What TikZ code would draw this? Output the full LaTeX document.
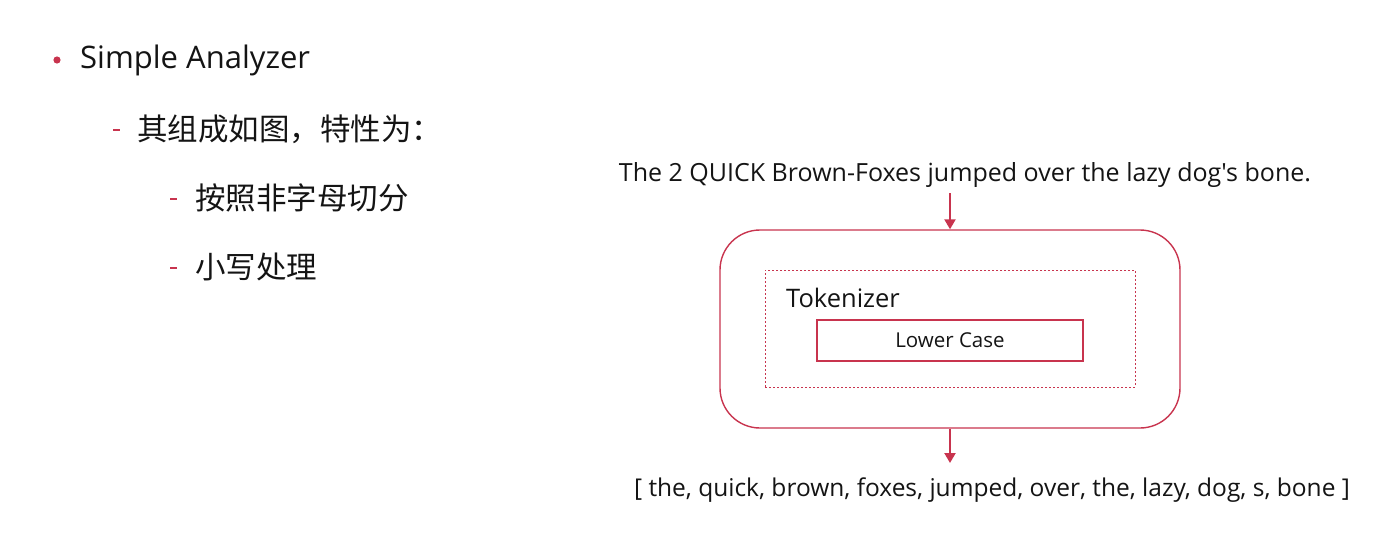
\documentclass[tikz,border=0pt]{standalone}
\usepackage{fontspec}
\setmainfont{Open Sans}[Ligatures=TeXOff]
\newfontfamily\cjk{Noto Sans CJK SC}
\usetikzlibrary{arrows.meta}
\definecolor{accent}{RGB}{200,52,78}
\definecolor{ink}{RGB}{20,20,20}
\begin{document}
\begin{tikzpicture}[x=1pt,y=-1pt,
  txt/.style={inner sep=0pt,text=ink,anchor=west},
  flow/.style={draw=accent,line width=2.2pt,-{Triangle[length=10pt,width=11pt]}},
  dashmark/.style={fill=accent,minimum width=7pt,minimum height=1.5pt,inner sep=0pt}]
\useasboundingbox (0,0) rectangle (1382,538);
% left text
\fill[accent] (57,60) circle (3.6pt);
\node[txt,font=\fontsize{31}{34}\selectfont] (t1) at (80,60) {Simple Analyzer};
\node[dashmark] (d1) at (116,130) {};
\node[txt,font=\cjk\fontsize{30.5}{34}\selectfont] (t2) at (137,129) {其组成如图，特性为：};
\node[dashmark] (d2) at (173,199) {};
\node[txt,font=\cjk\fontsize{30.5}{34}\selectfont] (t3) at (195,198) {按照非字母切分};
\node[dashmark] (d3) at (173,268) {};
\node[txt,font=\cjk\fontsize{30.5}{34}\selectfont] (t4) at (195,267) {小写处理};
% diagram
\node[inner sep=0pt,text=ink,font=\fontsize{25}{28}\selectfont] (src) at (965,175) {The 2 QUICK Brown-Foxes jumped over the lazy dog's bone.};
\node[draw=accent,line width=1.4pt,rounded corners=40pt,minimum width=460pt,minimum height=198pt,inner sep=0pt] (outer) at (950,329) {};
\node[draw=accent,line width=1pt,dash pattern=on 2pt off 2pt,minimum width=370pt,minimum height=117pt,inner sep=0pt] (tok) at (950,328.5) {};
\node[txt,font=\fontsize{25.5}{28}\selectfont] (tokl) at (786,298) {Tokenizer};
\node[draw=accent,line width=1.2pt,minimum width=266pt,minimum height=41pt,inner sep=0pt,text=ink,font=\fontsize{20.5}{24}\selectfont] (lc) at (950,340.5) {Lower Case};
\node[inner sep=0pt,text=ink,font=\fontsize{24.5}{28}\selectfont] (res) at (992,490) {[ the, quick, brown, foxes, jumped, over, the, lazy, dog, s, bone ]};
\coordinate (a1) at (950,193);
\coordinate (a2) at (950,463);
\draw[flow] (a1) -- (outer.north);
\draw[flow] (outer.south) -- (a2);
\end{tikzpicture}
\end{document}
